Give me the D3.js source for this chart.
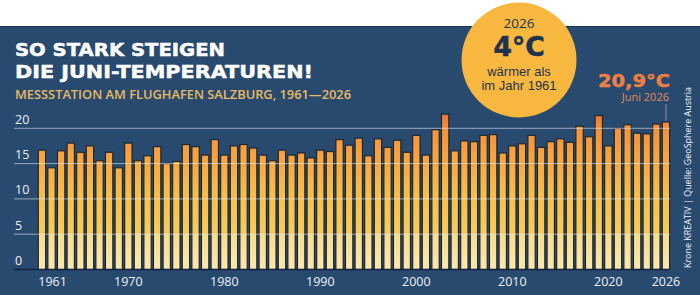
<!DOCTYPE html>
<html>
<head>
<meta charset="utf-8">
<script src="https://cdn.jsdelivr.net/npm/d3@7"></script>
<style>
  html, body { margin: 0; padding: 0; background: #fff; }
  svg { display: block; }
</style>
</head>
<body>
<svg width="700" height="295"></svg>
<script>
var svg = d3.select("svg"),
	width = +svg.attr("width"),
	height = +svg.attr("height");

// Junitemperatur Flughafen Salzburg, °C
var years = d3.range(1961, 2027);
var temps = [
	16.9, 14.4, 16.8, 17.9, 16.6, 17.5, 15.4, 16.6, 14.4, 17.9,
	15.4, 16.1, 17.4, 15.0, 15.3, 17.7, 17.4, 16.2, 18.4, 16.2,
	17.5, 17.7, 17.2, 16.2, 15.4, 16.9, 16.2, 16.5, 15.8, 16.9,
	16.7, 18.4, 17.6, 18.6, 16.1, 18.5, 17.3, 18.3, 16.6, 19.0,
	16.2, 19.8, 22.0, 16.8, 18.2, 18.1, 19.0, 19.1, 16.5, 17.5,
	17.8, 19.0, 17.3, 18.1, 18.5, 18.0, 20.3, 18.8, 21.8, 17.5,
	20.0, 20.5, 19.3, 19.2, 20.6, 20.9
];
var yTicks = [0, 5, 10, 15, 20];
var xLabels = [1961, 1970, 1980, 1990, 2000, 2010, 2020, 2026];

var data = years.map(function (y, i) { return { year: y, t: temps[i] }; });

// background
svg.append("rect").attr("x", 0).attr("y", 0).attr("width", width).attr("height", height).attr("fill", "#fff");
svg.append("rect").attr("x", 0).attr("y", 26).attr("width", width).attr("height", height - 26).attr("fill", "#284a6f");
svg.append("line").attr("x1", 0).attr("x2", width).attr("y1", 26.5).attr("y2", 26.5)
	.attr("stroke", "#1b3254").attr("stroke-width", 1.2);

var x = d3.scaleBand()
	.domain(years)
	.range([38.3, 669.6])
	.paddingInner(0.24)
	.paddingOuter(0);

var y = d3.scaleLinear()
	.domain([0, 20])
	.range([269.5, 128.3]);

// gradient over the whole plot height
var defs = svg.append("defs");
var grad = defs.append("linearGradient")
	.attr("id", "barGrad")
	.attr("gradientUnits", "userSpaceOnUse")
	.attr("x1", 0).attr("x2", 0)
	.attr("y1", y(0)).attr("y2", y(22));
var stops = [
	[0, "#fde7ac"], [4.95, "#fbdb8c"], [5.05, "#f6cd58"], [10, "#f8c04a"],
	[15, "#f8a83f"], [20, "#f4913a"], [22, "#ee7436"]
];
stops.forEach(function (s) {
	grad.append("stop").attr("offset", (s[0] / 22 * 100) + "%").attr("stop-color", s[1]);
});

// bars
svg.append("g")
	.selectAll("rect")
	.data(data)
	.enter().append("rect")
	.attr("x", function (d) { return x(d.year); })
	.attr("y", function (d) { return y(d.t); })
	.attr("width", x.bandwidth())
	.attr("height", function (d) { return y(0) - y(d.t); })
	.attr("fill", "url(#barGrad)")
	.attr("stroke", "#18232c")
	.attr("stroke-width", 1.1);

// grid lines
svg.append("g")
	.selectAll("line")
	.data(yTicks.filter(function (v) { return v > 0; }))
	.enter().append("line")
	.attr("x1", 14).attr("x2", 670)
	.attr("y1", function (d) { return y(d); })
	.attr("y2", function (d) { return y(d); })
	.attr("stroke", "#e4ecf5")
	.attr("stroke-opacity", 0.6)
	.attr("stroke-width", 1);

// baseline
svg.append("line")
	.attr("x1", 14).attr("x2", 670)
	.attr("y1", y(0)).attr("y2", y(0))
	.attr("stroke", "#112340").attr("stroke-width", 1.6);

// y tick labels
svg.append("g")
	.selectAll("text")
	.data(yTicks)
	.enter().append("text")
	.attr("x", 15)
	.attr("y", function (d) { return y(d) - 4.5; })
	.attr("font-family", "'Open Sans', sans-serif")
	.attr("font-size", 12.5)
	.attr("fill", "#eef2f7")
	.text(function (d) { return d; });

// x labels
svg.append("g")
	.selectAll("text")
	.data(xLabels)
	.enter().append("text")
	.attr("x", function (d, i) { return i === 0 ? x(d) : x(d) + x.bandwidth() / 2; })
	.attr("y", 286)
	.attr("text-anchor", function (d, i) { return i === 0 ? "start" : "middle"; })
	.attr("font-family", "'Open Sans', sans-serif")
	.attr("font-size", 12.5)
	.attr("fill", "#eef2f7")
	.text(function (d) { return d; });

// titles
svg.append("text")
	.attr("x", 15).attr("y", 56)
	.attr("font-family", "'DejaVu Sans', sans-serif")
	.attr("font-weight", "bold")
	.attr("font-size", 18.5)
	.attr("fill", "#fff").attr("stroke", "#fff").attr("stroke-width", 0.5)
	.attr("textLength", 210).attr("lengthAdjust", "spacingAndGlyphs")
	.text("SO STARK STEIGEN");
svg.append("text")
	.attr("x", 15).attr("y", 78)
	.attr("font-family", "'DejaVu Sans', sans-serif")
	.attr("font-weight", "bold")
	.attr("font-size", 18.5)
	.attr("fill", "#fff").attr("stroke", "#fff").attr("stroke-width", 0.5)
	.attr("textLength", 298).attr("lengthAdjust", "spacingAndGlyphs")
	.text("DIE JUNI-TEMPERATUREN!");
svg.append("text")
	.attr("x", 15).attr("y", 98.5)
	.attr("font-family", "'Open Sans', sans-serif")
	.attr("font-weight", 600)
	.attr("font-size", 13)
	.attr("fill", "#e9b964")
	.attr("textLength", 336).attr("lengthAdjust", "spacingAndGlyphs")
	.text("MESSSTATION AM FLUGHAFEN SALZBURG, 1961\u20142026");

// circle callout
var first = temps[0], last = temps[temps.length - 1];
var cg = svg.append("g").attr("transform", "translate(519,60)");
cg.append("circle").attr("r", 57.5).attr("fill", "#f8b840");
cg.append("text").attr("y", -32.5).attr("text-anchor", "middle")
	.attr("font-family", "'Open Sans', sans-serif").attr("font-size", 13.5)
	.attr("fill", "#1f3350").text(years[years.length - 1]);
cg.append("text").attr("y", -4).attr("text-anchor", "middle")
	.attr("font-family", "'DejaVu Sans', sans-serif").attr("font-weight", "bold")
	.attr("font-size", 26.5).attr("fill", "#1f3350").attr("stroke", "#1f3350").attr("stroke-width", 0.6)
	.text(Math.round(last - first) + "°C");
cg.append("text").attr("y", 15.5).attr("text-anchor", "middle")
	.attr("font-family", "'Liberation Sans', sans-serif").attr("font-size", 13)
	.attr("fill", "#1f3350").text("wärmer als");
cg.append("text").attr("y", 30).attr("text-anchor", "middle")
	.attr("font-family", "'Liberation Sans', sans-serif").attr("font-size", 13)
	.attr("fill", "#1f3350").text("im Jahr " + years[0]);

// last value annotation
var lx = x(2026) + x.bandwidth() / 2;
svg.append("text")
	.attr("x", 670).attr("y", 86.5)
	.attr("text-anchor", "end")
	.attr("font-family", "'DejaVu Sans', sans-serif").attr("font-weight", "bold")
	.attr("font-size", 17).attr("fill", "#f08040").attr("stroke", "#f08040").attr("stroke-width", 0.4)
	.attr("textLength", 72).attr("lengthAdjust", "spacingAndGlyphs")
	.text(d3.format(".1f")(last).replace(".", ",") + "°C");
svg.append("text")
	.attr("x", 669).attr("y", 101)
	.attr("text-anchor", "end")
	.attr("font-family", "'Open Sans', sans-serif")
	.attr("font-size", 11).attr("fill", "#e58a5c")
	.text("Juni 2026");
svg.append("line")
	.attr("x1", lx).attr("x2", lx)
	.attr("y1", 104).attr("y2", y(last) - 1)
	.attr("stroke", "#8898ae").attr("stroke-width", 1);

// source
svg.append("text")
	.attr("transform", "translate(690.5,268) rotate(-90)")
	.attr("font-family", "'Open Sans', sans-serif")
	.attr("font-size", 9.8)
	.attr("fill", "#f2f5f9")
	.attr("textLength", 181).attr("lengthAdjust", "spacingAndGlyphs")
	.text("Krone KREATIV  |  Quelle: GeoSphere Austria");
</script>
</body>
</html>
